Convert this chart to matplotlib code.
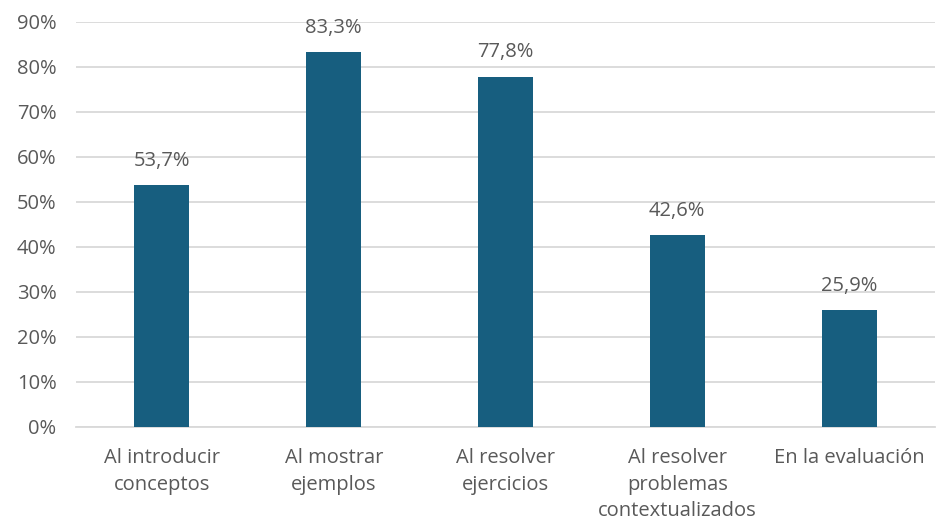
import matplotlib
matplotlib.use("Agg")
import matplotlib.pyplot as plt
from matplotlib.ticker import FuncFormatter

categories = ["Al introducir\nconceptos", "Al mostrar\nejemplos", "Al resolver\nejercicios",
              "Al resolver\nproblemas\ncontextualizados", "En la evaluación"]
values = [53.7, 83.3, 77.8, 42.6, 25.9]
yticks = [0, 10, 20, 30, 40, 50, 60, 70, 80, 90]

plt.rcParams['font.family'] = ['Open Sans', 'DejaVu Sans']
fig = plt.figure(figsize=(9.41, 5.22), dpi=100)
ax = fig.add_axes([0.0808, 0.182, 0.9128, 0.776])

bar_color = "#175E7F"
text_color = "#595959"
fs = 14.5
x = range(len(categories))
ax.bar(x, values, width=0.32, color=bar_color, zorder=3)
for xi, v in zip(x, values):
    ax.text(xi, v + 3.2, f"{v:.1f}%".replace(".", ","), ha="center", va="bottom",
            fontsize=fs, color=text_color)

ax.set_ylim(0, 90)
ax.set_xlim(-0.5, len(categories) - 0.5)
ax.set_yticks(yticks)
ax.yaxis.set_major_formatter(FuncFormatter(lambda v, p: f"{int(v)}%"))
ax.grid(axis="y", color="#D9D9D9", linewidth=1.3, zorder=0)
ax.set_xticks(list(x))
ax.set_xticklabels(categories, fontsize=fs, color=text_color, linespacing=1.45)
ax.tick_params(axis="y", labelsize=fs, labelcolor=text_color, length=0, pad=14)
ax.tick_params(axis="x", length=0, pad=15)
for s in ["top", "right", "left"]:
    ax.spines[s].set_visible(False)
ax.spines["bottom"].set_color("#D9D9D9")
ax.spines["bottom"].set_linewidth(1.3)

fig.savefig("out.png", dpi=100)
